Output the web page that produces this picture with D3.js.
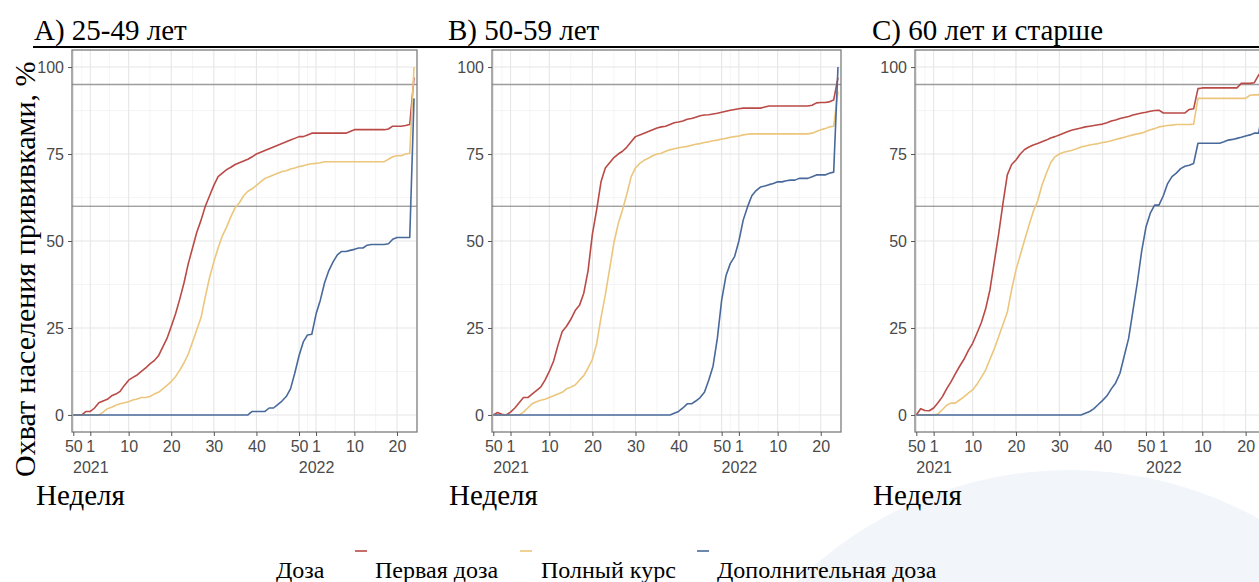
<!DOCTYPE html>
<html>
<head>
<meta charset="utf-8">
<script src="https://cdn.jsdelivr.net/npm/d3@7"></script>
<style>
  html, body { margin: 0; padding: 0; background: #ffffff; }
  svg { display: block; }
</style>
</head>
<body>
<svg id="chart" width="1259" height="582"></svg>
<script>
// Week index: 0 = week 1 of 2021, 2020 week 50 = -4, week 1 of 2022 = 53
const firstWeekIndex = -4;

const xTickIndex = [-4, 0, 9, 19, 29, 39, 49, 53, 62, 72];
const xTickWeek  = ["50", "1", "10", "20", "30", "40", "50", "1", "10", "20"];
const xTickYear  = ["", "2021", "", "", "", "", "", "2022", "", ""];
const xMinorIndex = [-2, 4.5, 14, 24, 34, 44, 51, 57.5, 67];
const yTicks = [0, 25, 50, 75, 100];
const yMinor = [12.5, 37.5, 62.5, 87.5];
const targetLevels = [95, 60];

const panelTitles = ["A) 25-49 лет", "B) 50-59 лет", "C) 60 лет и старше"];
const doseNames = ["Первая доза", "Полный курс", "Дополнительная доза"];
const doseColors = ["#b94a46", "#ebc67c", "#48699a"];

// Coverage, %, one value per week from 2020 week 50 to 2022 week 24
const firstDoseA = [
  0,0,0,1,1,2,3.5,4,4.5,5.5,
  6,6.8,8.5,10,10.8,11.5,12.5,13.5,14.7,15.6,
  17,19.5,22,25.4,29,33.3,38,43.5,48,52.5,
  56,60,63,66,68.5,69.5,70.5,71.2,72,72.5,
  73,73.5,74.2,75,75.5,76,76.5,77,77.5,78,
  78.5,79,79.5,80,80,80.5,81,81,81,81,
  81,81,81,81,81,81.5,82,82,82,82,
  82,82,82,82,82.2,83,83,83,83.2,83.5,
  97
];
const fullCourseA = [
  0,0,0,0,0,0,0,0.8,1.8,2.2,
  2.8,3.2,3.5,3.8,4.3,4.6,5,5,5.3,6,
  6.5,7.5,8.5,9.6,11,12.9,15,17.5,21,24.5,
  28,34,39.5,44,48,51.5,54,57,59.5,61,
  63,64.3,65,66,67,68,68.5,69,69.5,70,
  70.2,70.7,71,71.4,71.6,72,72.2,72.3,72.5,72.8,
  72.8,72.8,72.8,72.8,72.8,72.8,72.8,72.8,72.8,72.8,
  72.8,72.8,72.8,72.8,73.5,74.2,74.5,74.5,75,75.2,
  100
];
const boosterA = [
  0,0,0,0,0,0,0,0,0,0,
  0,0,0,0,0,0,0,0,0,0,
  0,0,0,0,0,0,0,0,0,0,
  0,0,0,0,0,0,0,0,0,0,
  0,0,1,1,1,1,2,2,3,4,
  5.3,7.5,12,17,21,23,23.2,29,33,38,
  41.5,44,46,47,47,47.3,47.6,48,48,48.8,
  49,49,49,49,49.2,50.5,51,51,51,51,
  91
];

const firstDoseB = [
  0,0.7,0.2,0,0.8,2,3.5,5,5,6,
  7,8,10,12.5,15.5,20,24,25.5,27.5,30,
  31.5,35,41.5,52,59,67,71,72.5,74,75,
  75.8,77,78.5,80,80.5,81,81.5,82,82.5,82.8,
  83,83.5,84,84.2,84.5,85,85.2,85.6,86,86.2,
  86.3,86.5,86.7,87,87.3,87.6,87.8,88,88.2,88.2,
  88.2,88.2,88.2,88.5,88.8,88.8,88.8,88.8,88.8,88.8,
  88.8,88.8,88.8,88.8,89,89.7,89.8,89.8,90,90.5,
  97
];
const fullCourseB = [
  0,0,0,0,0,0,0,0.8,2,3.2,
  3.8,4.2,4.5,5,5.5,6,6.5,7.5,8,8.6,
  10,11.3,13.5,16,20.5,28,34.5,42,49.5,55,
  59,63.5,68.5,71,72.3,73.2,73.8,74.5,75,75.2,
  75.8,76.2,76.5,76.8,77,77.2,77.5,77.8,78,78.3,
  78.5,78.8,79,79.3,79.5,79.8,80,80.2,80.5,80.7,
  80.8,80.8,80.8,80.8,80.8,80.8,80.8,80.8,80.8,80.8,
  80.8,80.8,80.8,80.8,81,81.5,82,82.3,82.8,83,
  93
];
const boosterB = [
  0,0,0,0,0,0,0,0,0,0,
  0,0,0,0,0,0,0,0,0,0,
  0,0,0,0,0,0,0,0,0,0,
  0,0,0,0,0,0,0,0,0,0,
  0,0,0.5,1,2,3.2,3.2,4,5,6.5,
  10,14,22,33,40,43.5,45.5,50,56,59.8,
  63,64.5,65.5,65.8,66.2,66.5,67,67,67.3,67.5,
  67.5,68,68,68,68.5,69,69,69,69.5,69.8,
  100
];

const firstDoseC = [
  0,1.8,1.3,1.2,2,3.5,5.2,7.5,9.5,11.8,
  14,16,18.5,20.6,23.5,26.5,30.5,36,44,52,
  60.8,69,72,73.3,75,76.3,77,77.6,78,78.5,
  79,79.6,80,80.5,81,81.5,81.9,82.2,82.5,82.8,
  83,83.2,83.4,83.6,84,84.5,84.8,85.2,85.5,85.8,
  86.2,86.5,86.8,87,87.3,87.5,87.6,86.8,86.8,86.8,
  86.8,86.8,86.8,87.8,88,93.8,94,94,94,94,
  94,94,94,94,94,95.3,95.3,95.3,95.5,97.7,
  99
];
const fullCourseC = [
  0,0,0,0,0,0.3,1.5,2.8,3.4,3.4,
  4.3,5.2,6.3,7.2,8.8,10.8,12.9,16,19,22.5,
  26,29.5,36,41.7,46,50.3,54.5,58.5,61.5,66,
  69.4,72.5,74.2,75,75.5,75.8,76.1,76.5,77,77.3,
  77.6,77.8,78,78.3,78.5,78.8,79.2,79.5,79.8,80.2,
  80.5,80.8,81,81.5,82,82.3,82.8,83,83.2,83.3,
  83.5,83.5,83.5,83.5,83.6,91,91,91,91,91,
  91,91,91,91,91,91,91,91.9,92,92,
  94
];
const boosterC = [
  0,0,0,0,0,0,0,0,0,0,
  0,0,0,0,0,0,0,0,0,0,
  0,0,0,0,0,0,0,0,0,0,
  0,0,0,0,0,0,0,0,0,0.5,
  1,1.8,3,4.2,5.5,7.5,9.2,12,17,22,
  30,38,47,54,58,60.3,60.3,63,66.5,68.5,
  69.5,70.8,71.5,71.8,72.3,78.1,78.1,78.1,78.1,78.1,
  78.1,78.5,79,79.2,79.5,79.8,80.2,80.5,81,81,
  88
];

const panelSeries = [
  [firstDoseA, fullCourseA, boosterA],
  [firstDoseB, fullCourseB, boosterB],
  [firstDoseC, fullCourseC, boosterC]
];

// ---- layout ----
const svg = d3.select("#chart");
const serif = "'Liberation Serif', 'Times New Roman', serif";
const sans = "'Liberation Sans', Arial, sans-serif";

const plotTop = 50, plotBottom = 432;
const panelBoxes = [
  { left: 72,  right: 417,  titleX: 34,  xLabelX: 36 },
  { left: 492, right: 841,  titleX: 448, xLabelX: 449 },
  { left: 915, right: 1266, titleX: 872, xLabelX: 873 }
];

// faint background circle in the lower right
svg.append("circle")
  .attr("cx", 1070).attr("cy", 860).attr("r", 390)
  .attr("fill", "#f2f6fa");

// rule under panel titles
svg.append("line")
  .attr("x1", 33).attr("x2", 1259)
  .attr("y1", 47).attr("y2", 47)
  .attr("stroke", "#000").attr("stroke-width", 2);

const y = d3.scaleLinear().domain([-4.9, 104.9]).range([plotBottom, plotTop]);

panelBoxes.forEach((box, p) => {
  const x = d3.scaleLinear().domain([-4.3, 76.7]).range([box.left, box.right]);
  const g = svg.append("g");

  // panel background
  g.append("rect")
    .attr("x", box.left).attr("y", plotTop)
    .attr("width", box.right - box.left).attr("height", plotBottom - plotTop)
    .attr("fill", "#ffffff");

  // minor grid
  g.selectAll(".ymin").data(yMinor).join("line")
    .attr("x1", box.left).attr("x2", box.right)
    .attr("y1", d => y(d)).attr("y2", d => y(d))
    .attr("stroke", "#f3f3f3").attr("stroke-width", 0.8);
  g.selectAll(".xmin").data(xMinorIndex).join("line")
    .attr("x1", d => x(d)).attr("x2", d => x(d))
    .attr("y1", plotTop).attr("y2", plotBottom)
    .attr("stroke", "#f3f3f3").attr("stroke-width", 0.8);

  // major grid
  g.selectAll(".ymaj").data(yTicks).join("line")
    .attr("x1", box.left).attr("x2", box.right)
    .attr("y1", d => y(d)).attr("y2", d => y(d))
    .attr("stroke", "#e6e6e6").attr("stroke-width", 1.1);
  g.selectAll(".xmaj").data(xTickIndex).join("line")
    .attr("x1", d => x(d)).attr("x2", d => x(d))
    .attr("y1", plotTop).attr("y2", plotBottom)
    .attr("stroke", "#e6e6e6").attr("stroke-width", 1.1);

  // target levels
  g.selectAll(".target").data(targetLevels).join("line")
    .attr("x1", box.left).attr("x2", box.right)
    .attr("y1", d => y(d)).attr("y2", d => y(d))
    .attr("stroke", (d, i) => i === 0 ? "#9c9c9c" : "#7a7a7a")
    .attr("stroke-width", (d, i) => i === 0 ? 1.6 : 1);

  // series
  panelSeries[p].forEach((values, s) => {
    const line = d3.line()
      .x((d, i) => x(firstWeekIndex + i))
      .y(d => y(d));
    g.append("path")
      .datum(values)
      .attr("d", line)
      .attr("fill", "none")
      .attr("stroke", doseColors[s])
      .attr("stroke-width", 1.6)
      .attr("stroke-linejoin", "round");
  });

  // panel border
  g.append("rect")
    .attr("x", box.left).attr("y", plotTop)
    .attr("width", box.right - box.left).attr("height", plotBottom - plotTop)
    .attr("fill", "none").attr("stroke", "#7d7d7d").attr("stroke-width", 1.3);

  // y axis
  const yAxis = d3.axisLeft(y).tickValues(yTicks).tickSize(4).tickPadding(4);
  const ya = g.append("g").attr("transform", `translate(${box.left},0)`).call(yAxis);
  ya.select(".domain").remove();
  ya.selectAll(".tick line").attr("stroke", "#555");
  ya.selectAll(".tick text")
    .attr("font-family", sans).attr("font-size", 16).attr("fill", "#4a4a4a");

  // x axis: week number with year below
  const xAxis = d3.axisBottom(x).tickValues(xTickIndex).tickSize(4).tickPadding(5)
    .tickFormat((d, i) => xTickWeek[i]);
  const xa = g.append("g").attr("transform", `translate(0,${plotBottom})`).call(xAxis);
  xa.select(".domain").remove();
  xa.selectAll(".tick line").attr("stroke", "#555");
  xa.selectAll(".tick text")
    .attr("font-family", sans).attr("font-size", 16).attr("fill", "#4a4a4a");
  xa.selectAll(".tick").each(function(d, i) {
    if (xTickYear[i]) {
      d3.select(this).append("text")
        .attr("y", 41)
        .attr("text-anchor", "middle")
        .attr("font-family", sans).attr("font-size", 16).attr("fill", "#4a4a4a")
        .text(xTickYear[i]);
    }
  });

  // panel title
  svg.append("text")
    .attr("x", box.titleX).attr("y", 40)
    .attr("font-family", serif).attr("font-size", 29).attr("fill", "#000")
    .text(panelTitles[p]);

  // x axis title
  svg.append("text")
    .attr("x", box.xLabelX).attr("y", 505)
    .attr("font-family", serif).attr("font-size", 29).attr("fill", "#000")
    .text("Неделя");
});

// y axis title
svg.append("text")
  .attr("transform", "translate(35,477) rotate(-90)")
  .attr("font-family", serif).attr("font-size", 30).attr("fill", "#000")
  .text("Охват населения прививками, %");

// legend
const legend = svg.append("g");
legend.append("text")
  .attr("x", 276).attr("y", 578)
  .attr("font-family", serif).attr("font-size", 24).attr("fill", "#000")
  .text("Доза");
const legendKeyX = [355, 520, 697];
const legendTextX = [375, 541, 717];
doseNames.forEach((name, i) => {
  legend.append("line")
    .attr("x1", legendKeyX[i]).attr("x2", legendKeyX[i] + 12)
    .attr("y1", 551).attr("y2", 551)
    .attr("stroke", doseColors[i]).attr("stroke-width", 1.6);
  legend.append("text")
    .attr("x", legendTextX[i]).attr("y", 578)
    .attr("font-family", serif).attr("font-size", 24).attr("fill", "#000")
    .text(name);
});
</script>
</body>
</html>
